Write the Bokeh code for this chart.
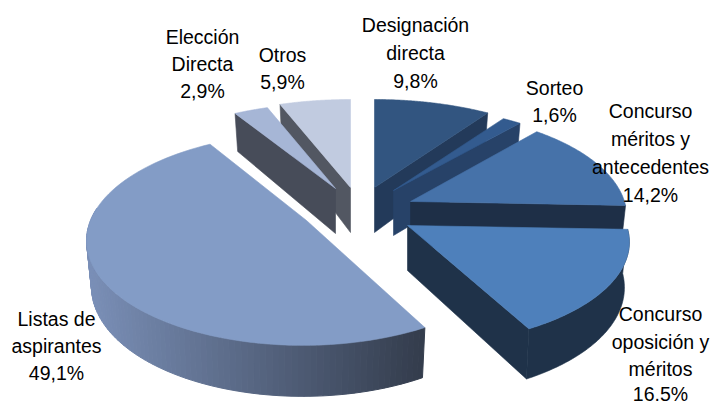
import numpy as np
from bokeh.plotting import figure
from bokeh.models import Range1d
from bokeh.core.properties import value
from bokeh.embed import file_html
from bokeh.resources import INLINE

categories = ["Designación directa", "Sorteo", "Concurso méritos y antecedentes",
              "Concurso oposición y méritos", "Listas de aspirantes", "Elección Directa", "Otros"]
shares = [9.8, 1.6, 14.2, 16.5, 49.1, 2.9, 5.9]
label_lines = [["Designación", "directa", "9,8%"],
               ["Sorteo", "1,6%"],
               ["Concurso", "méritos y", "antecedentes", "14,2%"],
               ["Concurso", "oposición y", "méritos", "16.5%"],
               ["Listas de", "aspirantes", "49,1%"],
               ["Elección", "Directa", "2,9%"],
               ["Otros", "5,9%"]]

# layout: apex x, apex y, horizontal radius, vertical radius, perspective, shear
geom = [(374, 187, 236, 110, .25, 0),
        (393, 190, 229, 106, .25, 0),
        (410, 201, 214, 103, .15, 0),
        (407, 225, 219, 101, .16, 0),
        (306, 220, 216, 103, .175, .03),
        (335, 188, 232, 107, .25, 0),
        (350, 187, 240, 110, .25, 0)]
top_col = ["#325580", "#335b8f", "#4672a9", "#4e80bb", "#839cc6", "#a6b6d6", "#c1cbe0"]
wall_col = ["#233a5a", "#274268", "#1e2f47", "#1f3249", None, "#474c59", "#525762"]
label_x = [415, 554, 650, 660, 56, 202, 282]
label_y = [[24, 52, 80], [87, 114], [110, 138, 166, 194], [313, 341, 368, 393],
           [318, 345, 372], [36, 63, 90], [54, 81]]

edges = np.concatenate([[0], np.cumsum(shares)]) / sum(shares) * 2 * np.pi


def top_pt(i, t):
    ax, ay, a, b, k, s = geom[i]
    u, v = np.sin(t), np.cos(t)
    f = 1 / (1 + k * v)
    return ax + a * u * f + s * b * v * f, ay - b * v * f


def bot_pt(i, t):
    x, y = top_pt(i, t)
    return x - 5 * np.sin(t), y + 44 - 7 * np.cos(t)


p = figure(width=712, height=403, output_backend="svg", toolbar_location=None,
           x_range=Range1d(0, 712), y_range=Range1d(403, 0), min_border=0)
p.axis.visible = False
p.grid.visible = False
p.outline_line_color = None
p.background_fill_color = "#ffffff"


def draw_top(i):
    t = np.linspace(edges[i], edges[i + 1], 80)
    x, y = top_pt(i, t)
    ax, ay = geom[i][:2]
    p.patch(np.r_[ax, x], np.r_[ay, y], fill_color=top_col[i], line_color=top_col[i], line_width=.6)


def draw_radial(i, t):
    ax, ay = geom[i][:2]
    x, y = top_pt(i, t)
    xb, yb = bot_pt(i, t)
    p.patch([ax, x, xb, ax], [ay, y, yb, ay + 45], fill_color=wall_col[i], line_color=wall_col[i], line_width=.6)


# rear left pieces
draw_radial(6, edges[6]); draw_top(6)
draw_radial(5, edges[5]); draw_top(5)

# big front piece with shaded rim
i = 4
t = np.linspace(edges[i], 1.5 * np.pi + .12, 90)
xt, yt = top_pt(i, t)
xb, yb = bot_pt(i, t)
xs, ys, cs = [], [], []
lo, hi = np.array([0x7b, 0x90, 0xb8]), np.array([0x34, 0x3d, 0x4d])
for j in range(len(t) - 1):
    xs.append([xt[j], xt[j + 1], xb[j + 1], xb[j]])
    ys.append([yt[j], yt[j + 1], yb[j + 1], yb[j]])
    w = (xt[j] - xt.min()) / (xt.max() - xt.min())
    c = (1 - w) * lo + w * hi
    cs.append("#%02x%02x%02x" % tuple(int(q) for q in c))
p.patches(xs, ys, fill_color=cs, line_color=cs, line_width=1)
draw_top(4)

# right pieces, back to front
draw_radial(0, edges[1]); draw_top(0)
draw_radial(1, edges[2]); draw_top(1)
draw_radial(2, edges[3]); draw_top(2)

i = 3
t = np.linspace(edges[i], edges[i + 1], 80)
xt, yt = top_pt(i, t)
xb, yb = bot_pt(i, t)
p.patch(np.r_[xt, xb[::-1]], np.r_[yt, yb[::-1]], fill_color=wall_col[i], line_color=wall_col[i], line_width=.6)
draw_radial(3, edges[i + 1])
draw_top(3)

for lines, lx, lys in zip(label_lines, label_x, label_y):
    p.text([lx] * len(lines), lys, text=lines, text_font=value("Liberation Sans"),
           text_font_size="19.5px", text_color="#000000", text_align="center", text_baseline="middle")

open("out.html", "w").write(file_html(p, INLINE))
